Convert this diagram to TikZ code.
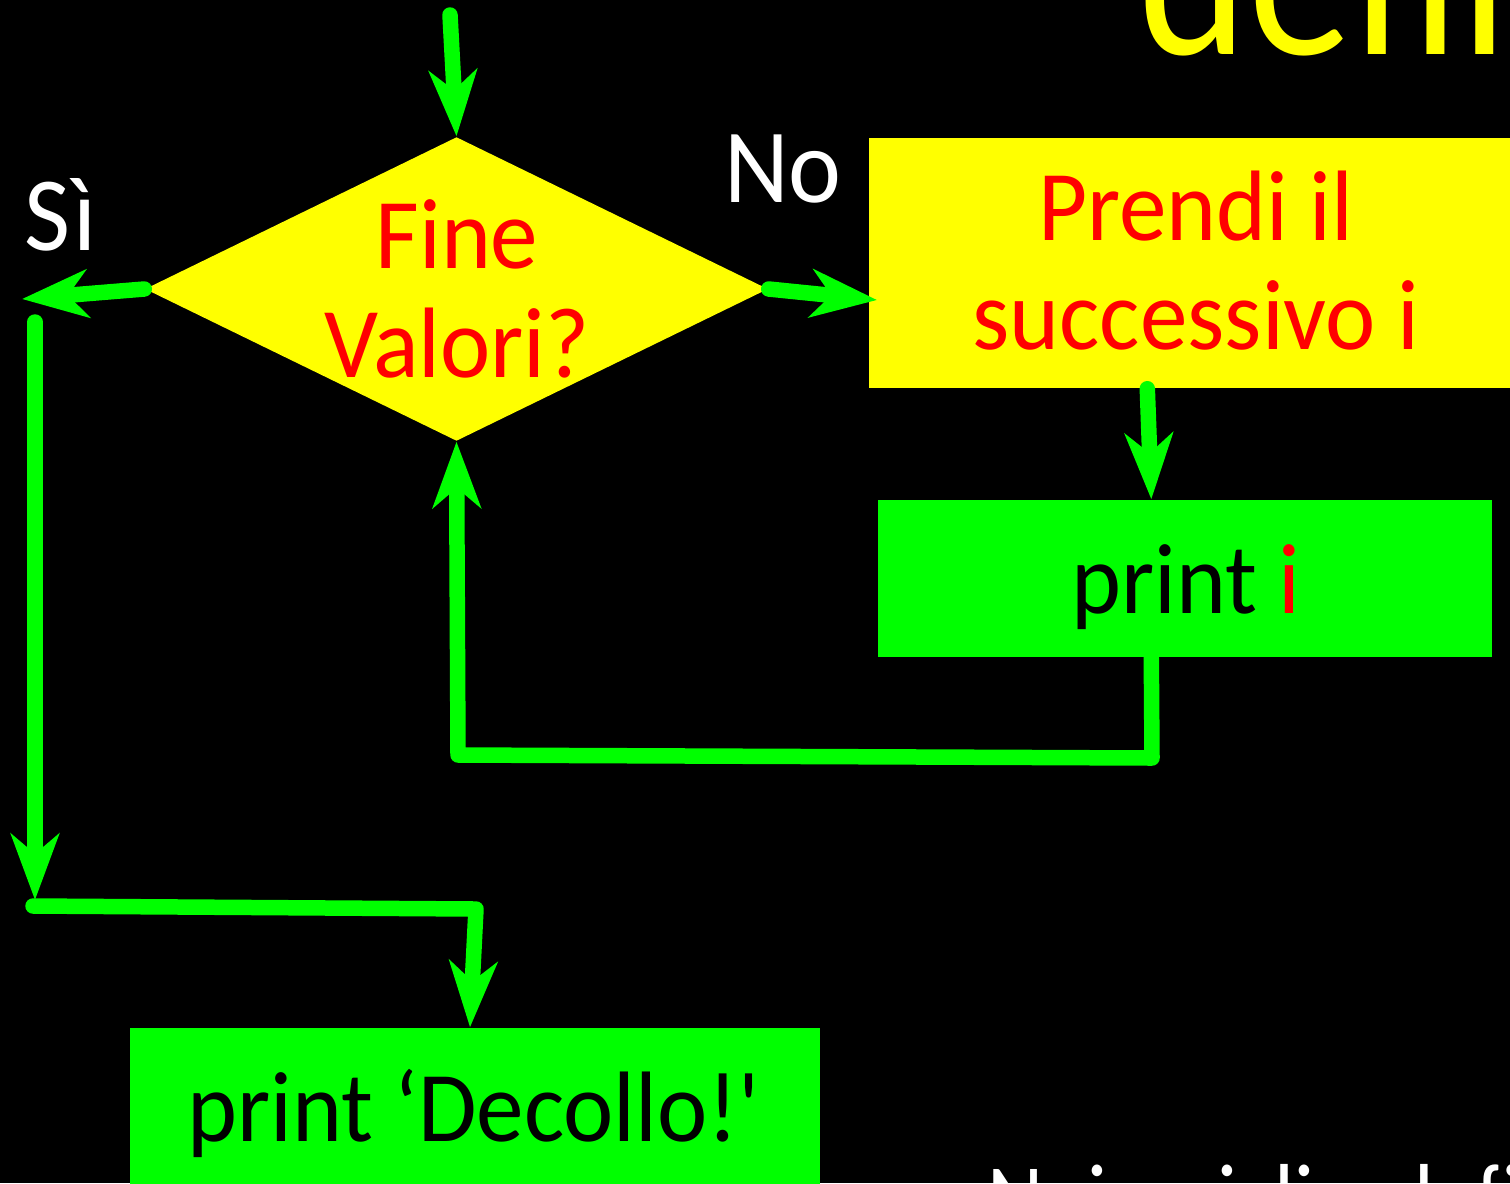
\documentclass[tikz,border=0pt]{standalone}
\usepackage{fontspec}
\setmainfont{Carlito}[FakeStretch=0.95]
\newfontfamily\narrowfont{Carlito}[FakeStretch=0.9]
\usetikzlibrary{arrows.meta,shapes.geometric,calc}
\definecolor{flowgreen}{RGB}{0,255,0}
\definecolor{flowyellow}{RGB}{255,255,0}
\definecolor{flowred}{RGB}{255,0,0}

\begin{document}
\begin{tikzpicture}[
  flow/.style={draw=flowgreen, line width=0.155cm, line cap=round, line join=round},
  arr/.style={flow, -{Stealth[length=0.66cm,width=0.48cm,inset=0.2cm]}},
  box/.style={rectangle, inner sep=0pt, draw=none},
  lbl/.style={text=white, font=\fontsize{30}{32}\selectfont, inner sep=0pt},
  txt/.style={font=\fontsize{28.5}{31}\selectfont, inner sep=0pt, align=center},
]
% canvas
\clip (0,0) rectangle (15.10,-11.83);
\fill[black] (0,0) rectangle (15.10,-11.83);

% heading, cut by the frame
\node[anchor=base west, text=flowyellow, font=\narrowfont\fontsize{66}{70}\selectfont, inner sep=0pt] (title) at (11.38,-0.54) {definiti};

% decision
\node[diamond, fill=flowyellow, minimum width=6.23cm, minimum height=3.04cm, inner sep=0pt] (q) at (4.565,-2.89) {};
\node[txt, text=flowred] (qt) at (4.57,-2.89) {Fine\\Valori?};

% branch labels
\node[lbl, anchor=base] (si) at (0.61,-2.50) {S\kern0.03em ì};
\node[lbl, anchor=base] (no) at (7.83,-2.02) {No};

% process boxes
\node[box, fill=flowyellow, minimum width=6.51cm, minimum height=2.50cm] (prendi) at (11.945,-2.63) {};
\node[txt, text=flowred] (prenditxt) at (11.96,-2.61) {Prendi il\\successivo i};

\node[box, fill=flowgreen, minimum width=6.14cm, minimum height=1.57cm] (printi) at (11.85,-5.785) {};
\node[txt, anchor=base, text=black] (printitxt) at (11.86,-6.13) {print \textcolor{flowred}{i}};

\node[box, fill=flowgreen, minimum width=6.90cm, minimum height=2.22cm] (dec) at (4.75,-11.39) {};
\node[txt, anchor=base, text=black] (dectxt) at (4.74,-11.41) {print ‘Decollo!\textquotesingle};

% text below, cut by the frame
\node[anchor=base west, text=white, font=\narrowfont\fontsize{27.5}{30}\selectfont, inner sep=0pt] (note) at (9.87,-12.31) {Nei\hspace{0.74cm}cicli\hspace{0.74cm}definiti};

% connectors
\coordinate (start) at (4.50,-0.15);
\draw[arr] (start) -- (q.north);

\coordinate (siTip) at (0.22,-2.99);
\draw[arr] (q.west) -- (siTip);
\coordinate (siTop) at (0.35,-3.22);
\coordinate (siBot) at (0.35,-9.00);
\draw[arr] (siTop) -- (siBot);
\coordinate (siTurn) at (0.33,-9.06);
\coordinate (decTurn) at (4.76,-9.09);
\draw[arr] (siTurn) -- (decTurn) -- ([xshift=-0.05cm]dec.north);

\coordinate (noTip) at (8.77,-3.00);
\draw[arr] (q.east) -- (noTip);

\draw[arr] ([xshift=2.79cm]prendi.south west) -- ([xshift=2.74cm]printi.north west);

\coordinate (loopR) at (11.52,-7.58);
\coordinate (loopL) at (4.58,-7.55);
\draw[arr] ([xshift=2.74cm]printi.south west) -- (loopR) -- (loopL) -- (q.south);
\end{tikzpicture}
\end{document}
